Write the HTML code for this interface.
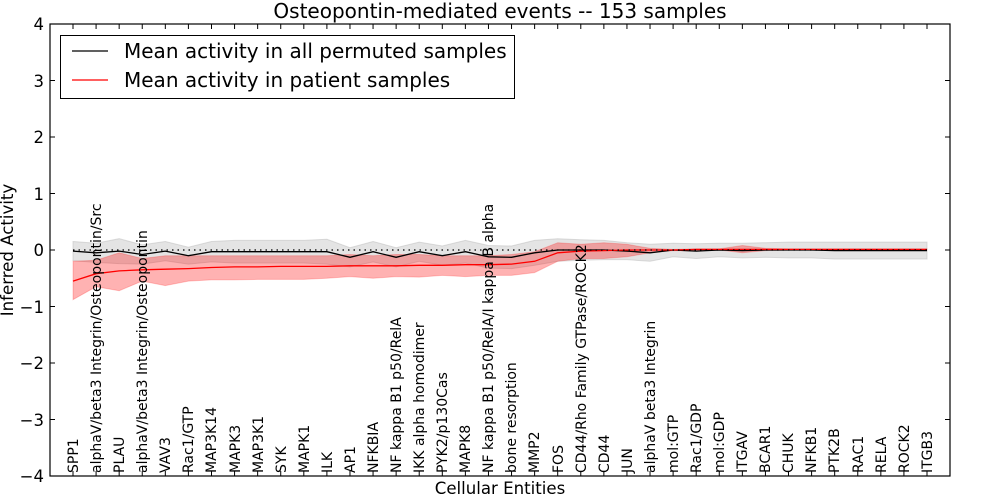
<!DOCTYPE html>
<html><head><meta charset="utf-8"><style>
html,body{margin:0;padding:0;background:#fff;}
svg{display:block;font-family:"DejaVu Sans","Liberation Sans",sans-serif;}
</style></head><body>
<svg id="s" width="1000" height="500" viewBox="0 0 1000 500" xmlns="http://www.w3.org/2000/svg">
<rect width="1000" height="500" fill="#fff"/>
<g id="data"></g>
<line x1="73" y1="250" x2="927" y2="250" stroke="#000" stroke-width="1.2" stroke-dasharray="1.5,4"/>
<rect x="50" y="24" width="900" height="452" fill="none" stroke="#000" stroke-width="1.2"/>
<g id="ticks" stroke="#000" stroke-width="1"></g>
<text x="500" y="18" font-size="20" text-anchor="middle">Osteopontin-mediated events -- 153 samples</text>
<text x="500" y="494" font-size="16.6" text-anchor="middle">Cellular Entities</text>
<text transform="translate(13,250) rotate(-90)" font-size="16.6" text-anchor="middle">Inferred Activity</text>
<g font-size="16.5" text-anchor="end">
<text x="44" y="30">4</text><text x="44" y="87">3</text><text x="44" y="143">2</text><text x="44" y="200">1</text><text x="44" y="256">0</text><text x="44" y="313">−1</text><text x="44" y="369">−2</text><text x="44" y="426">−3</text><text x="44" y="482">−4</text>
</g>
<g font-size="14">
<text transform="translate(78,473) rotate(-90)">SPP1</text>
<text transform="translate(101,473) rotate(-90)">alphaV/beta3 Integrin/Osteopontin/Src</text>
<text transform="translate(124,473) rotate(-90)">PLAU</text>
<text transform="translate(147,473) rotate(-90)">alphaV/beta3 Integrin/Osteopontin</text>
<text transform="translate(170,473) rotate(-90)">VAV3</text>
<text transform="translate(193,473) rotate(-90)">Rac1/GTP</text>
<text transform="translate(216,473) rotate(-90)">MAP3K14</text>
<text transform="translate(240,473) rotate(-90)">MAPK3</text>
<text transform="translate(263,473) rotate(-90)">MAP3K1</text>
<text transform="translate(286,473) rotate(-90)">SYK</text>
<text transform="translate(309,473) rotate(-90)">MAPK1</text>
<text transform="translate(332,473) rotate(-90)">ILK</text>
<text transform="translate(355,473) rotate(-90)">AP1</text>
<text transform="translate(378,473) rotate(-90)">NFKBIA</text>
<text transform="translate(401,473) rotate(-90)">NF kappa B1 p50/RelA</text>
<text transform="translate(424,473) rotate(-90)">IKK alpha homodimer</text>
<text transform="translate(447,473) rotate(-90)">PYK2/p130Cas</text>
<text transform="translate(470,473) rotate(-90)">MAPK8</text>
<text transform="translate(493,473) rotate(-90)">NF kappa B1 p50/RelA/I kappa B alpha</text>
<text transform="translate(516,473) rotate(-90)">bone resorption</text>
<text transform="translate(539,473) rotate(-90)">MMP2</text>
<text transform="translate(563,473) rotate(-90)">FOS</text>
<text transform="translate(586,473) rotate(-90)">CD44/Rho Family GTPase/ROCK2</text>
<text transform="translate(609,473) rotate(-90)">CD44</text>
<text transform="translate(632,473) rotate(-90)">JUN</text>
<text transform="translate(655,473) rotate(-90)">alphaV beta3 Integrin</text>
<text transform="translate(678,473) rotate(-90)">mol:GTP</text>
<text transform="translate(701,473) rotate(-90)">Rac1/GDP</text>
<text transform="translate(724,473) rotate(-90)">mol:GDP</text>
<text transform="translate(747,473) rotate(-90)">ITGAV</text>
<text transform="translate(770,473) rotate(-90)">BCAR1</text>
<text transform="translate(793,473) rotate(-90)">CHUK</text>
<text transform="translate(816,473) rotate(-90)">NFKB1</text>
<text transform="translate(839,473) rotate(-90)">PTK2B</text>
<text transform="translate(863,473) rotate(-90)">RAC1</text>
<text transform="translate(886,473) rotate(-90)">RELA</text>
<text transform="translate(909,473) rotate(-90)">ROCK2</text>
<text transform="translate(932,473) rotate(-90)">ITGB3</text>
</g>
<rect x="60.5" y="35.5" width="454" height="63" fill="#fff" stroke="#000" stroke-width="1"/>
<line x1="72" y1="51" x2="108" y2="51" stroke="#000" stroke-width="1.3"/>
<line x1="72" y1="80" x2="108" y2="80" stroke="#f00" stroke-width="1.3"/>
<text x="124" y="58" font-size="20">Mean activity in all permuted samples</text>
<text x="124" y="87" font-size="20">Mean activity in patient samples</text>
</svg>
<script>
(function(){
var N=38,x0=73,dx=(927-73)/37,Y=function(v){return 250-v*56.5;};
var bm=[-0.02,-0.05,-0.02,-0.08,-0.02,-0.1,-0.03,-0.03,-0.03,-0.03,-0.03,-0.03,-0.13,-0.03,-0.13,-0.03,-0.1,-0.03,-0.12,-0.13,-0.05,0,0,0,-0.02,-0.05,0,-0.02,0,-0.01,0,0,0,-0.01,-0.01,-0.01,-0.01,-0.01];
var bw=[0.17,0.17,0.22,0.17,0.17,0.15,0.18,0.2,0.2,0.2,0.2,0.22,0.17,0.18,0.17,0.17,0.17,0.2,0.2,0.2,0.22,0.2,0.18,0.17,0.15,0.15,0.12,0.13,0.12,0.13,0.13,0.14,0.14,0.15,0.15,0.15,0.15,0.15];
var rm=[-0.55,-0.42,-0.37,-0.35,-0.34,-0.33,-0.31,-0.3,-0.3,-0.29,-0.29,-0.29,-0.28,-0.28,-0.28,-0.27,-0.27,-0.26,-0.26,-0.25,-0.2,-0.05,-0.02,-0.01,0,0,0,0.01,0.01,0.01,0.01,0.01,0.01,0.01,0.01,0.01,0.01,0.01];
var ru=[-0.2,-0.18,-0.05,-0.15,-0.1,-0.1,-0.1,-0.1,-0.1,-0.1,-0.1,-0.1,-0.08,-0.1,-0.08,-0.08,-0.1,-0.1,-0.1,-0.08,-0.03,0.13,0.1,0.13,0.1,0.03,0.01,0.02,0.02,0.08,0.03,0.02,0.02,0.02,0.02,0.02,0.02,0.02];
var rl=[-0.88,-0.65,-0.72,-0.55,-0.63,-0.55,-0.53,-0.53,-0.52,-0.52,-0.52,-0.5,-0.47,-0.5,-0.47,-0.48,-0.45,-0.47,-0.45,-0.45,-0.4,-0.2,-0.15,-0.15,-0.12,-0.05,-0.01,-0.01,0,-0.05,-0.01,0,0,0,0,0,0,0];
function X(i){return x0+i*dx;}
function band(u,l){var s='M';for(var i=0;i<N;i++)s+=X(i).toFixed(1)+','+Y(u[i]).toFixed(1)+' L';for(var i=N-1;i>=0;i--)s+=X(i).toFixed(1)+','+Y(l[i]).toFixed(1)+(i?' L':'Z');return s;}
function line(m){var s='M';for(var i=0;i<N;i++)s+=X(i).toFixed(1)+','+Y(m[i]).toFixed(1)+(i<N-1?' L':'');return s;}
var bu=bm.map(function(v,i){return v+bw[i];}),bl=bm.map(function(v,i){return v-bw[i];});
var g=document.getElementById('data');
g.innerHTML='<path d="'+band(bu,bl)+'" fill="#bbb" fill-opacity="0.4" stroke="#bbb" stroke-opacity="0.5"/>'+
'<path d="'+band(ru,rl)+'" fill="#f00" fill-opacity="0.3" stroke="#f00" stroke-opacity="0.2"/>'+
'<path d="'+line(bm)+'" fill="none" stroke="#000" stroke-width="1.3"/>'+
'<path d="'+line(rm)+'" fill="none" stroke="#f00" stroke-width="1.3"/>';
var t='';
for(var v=-4;v<=4;v++){var y=Y(v);t+='<line x1="50" y1="'+y+'" x2="55" y2="'+y+'"/><line x1="945" y1="'+y+'" x2="950" y2="'+y+'"/>';}
for(var i=0;i<N;i++){var x=X(i);t+='<line x1="'+x+'" y1="476" x2="'+x+'" y2="471"/><line x1="'+x+'" y1="24" x2="'+x+'" y2="29"/>';}
document.getElementById('ticks').innerHTML=t;
})();
</script>
</body></html>
